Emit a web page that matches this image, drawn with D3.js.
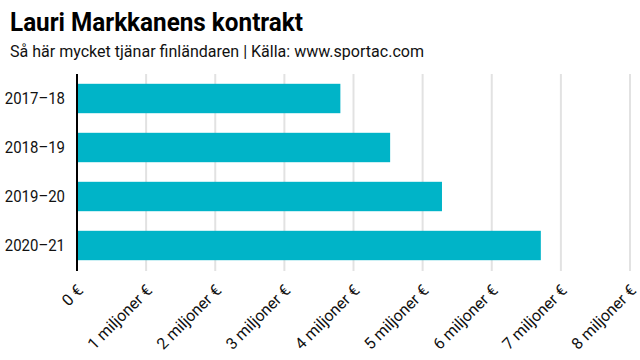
<!DOCTYPE html>
<html><head><meta charset="utf-8">
<script src="https://cdn.jsdelivr.net/npm/d3@7"></script>
<style>
body{margin:0;background:#fff;}
text{font-family:Roboto,"Noto Sans",sans-serif;}
</style></head>
<body><svg id="c" width="640" height="360"></svg>
<script>
const seasons = ["2017–18","2018–19","2019–20","2020–21"];
const salary = [3.81, 4.53, 5.28, 6.71]; // miljoner €
const tickValues = [0,1,2,3,4,5,6,7,8];
const tickLabels = ["0 €","1 miljoner €","2 miljoner €","3 miljoner €","4 miljoner €","5 miljoner €","6 miljoner €","7 miljoner €","8 miljoner €"];

const svg = d3.select("#c");
const x = d3.scaleLinear().domain([0,8]).range([77,630]);
const y = d3.scaleBand().domain(seasons).range([74,270]).paddingInner(0.4).paddingOuter(0.2);

svg.append("text").attr("x",10).attr("y",31).attr("font-size",26).attr("font-weight",700)
  .attr("fill","#000").attr("textLength",293).attr("lengthAdjust","spacingAndGlyphs")
  .text("Lauri Markkanens kontrakt");
svg.append("text").attr("x",10).attr("y",57).attr("font-size",16).attr("fill","#111")
  .attr("textLength",414).attr("lengthAdjust","spacingAndGlyphs")
  .text("Så här mycket tjänar finländaren | Källa: www.sportac.com");

// gridlines
svg.append("g").selectAll("line").data(tickValues.slice(1)).join("line")
  .attr("x1",d=>x(d)).attr("x2",d=>x(d)).attr("y1",74).attr("y2",271)
  .attr("stroke","#e2e2e2").attr("stroke-width",2);

// bars
svg.append("g").selectAll("rect").data(seasons).join("rect")
  .attr("x",x(0)).attr("y",d=>y(d))
  .attr("width",(d,i)=>x(salary[i])-x(0)).attr("height",y.bandwidth())
  .attr("fill","#00b4c8");

// y axis
const ya = svg.append("g").attr("transform",`translate(${x(0)},0)`)
  .call(d3.axisLeft(y).tickSize(0).tickPadding(12));
ya.select(".domain").attr("stroke","#000").attr("stroke-width",2).attr("d","M0,74V271");
ya.selectAll("text").attr("font-size",17).attr("fill","#111").attr("font-family","Roboto,sans-serif")
  .attr("x",0).attr("transform","translate(-12,0) scale(0.88,1)");

// x axis
const xa = svg.append("g").attr("transform","translate(0,271)")
  .call(d3.axisBottom(x).tickValues(tickValues).tickFormat((d,i)=>tickLabels[i]).tickSize(0).tickPadding(8));
xa.select(".domain").remove();
xa.selectAll("text").attr("font-size",16).attr("fill","#111").attr("font-family","Roboto,sans-serif")
  .attr("text-anchor","end").attr("dy","0.35em").attr("dx","-2")
  .attr("transform","translate(4,15) rotate(-45)").attr("y",0).attr("x",0);
</script></body></html>
